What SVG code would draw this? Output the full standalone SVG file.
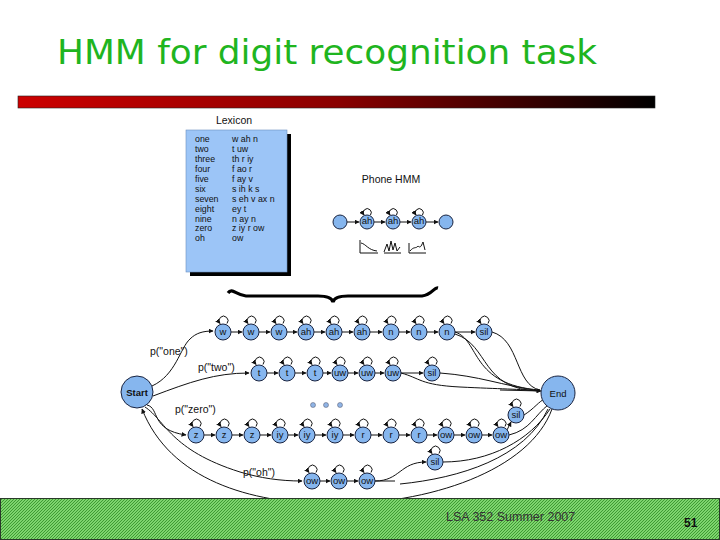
<svg xmlns="http://www.w3.org/2000/svg" xmlns:xlink="http://www.w3.org/1999/xlink" width="720" height="540" viewBox="0 0 720 540">
<style>
.n{fill:#86b6ee;stroke:#1a2440;stroke-width:1}
.nt{font-family:"Liberation Sans",Arial,sans-serif;font-size:9.5px;text-anchor:middle;fill:#111}
.c{fill:none;stroke:#111;stroke-width:1}
.ca{fill:none;stroke:#111;stroke-width:1;marker-end:url(#ah)}
.lbl{font-family:"Liberation Sans",Arial,sans-serif;font-size:10.5px;fill:#111}
.lex{font-family:"Liberation Sans",Arial,sans-serif;font-size:8.8px;fill:#111}
</style>
<defs>
<linearGradient id="bar" x1="0" x2="1" y1="0" y2="0">
<stop offset="0" stop-color="#cc0000"/>
<stop offset="0.5" stop-color="#8a0000"/>
<stop offset="1" stop-color="#000000"/>
</linearGradient>
<pattern id="hatch" width="3" height="3" patternUnits="userSpaceOnUse">
<rect width="3" height="3" fill="#7ed46e"/>
<path d="M0,3 L3,0" stroke="#3f9a33" stroke-width="1"/>
</pattern>
<marker id="ah" viewBox="0 0 10 10" refX="9" refY="5" markerWidth="5" markerHeight="5" orient="auto" markerUnits="userSpaceOnUse">
<path d="M0,0 L10,5 L0,10 z" fill="#111"/>
</marker>
<path id="loop" d="M4,-8.5 A4.5,4.5 0 1 0 -3,-8.5" class="ca"/>
<path id="loops" d="M3.5,-7 A4,4 0 1 0 -3,-7" class="ca"/>
</defs>
<rect width="720" height="540" fill="#ffffff"/>

<g id="title">
<text x="57" y="64" font-family="DejaVu Sans,Verdana,sans-serif" font-size="33" fill="#1fb51f" textLength="540" lengthAdjust="spacingAndGlyphs">HMM for digit recognition task</text>
<rect x="18" y="96" width="637" height="12" fill="url(#bar)" stroke="#222" stroke-width="0.6"/>
</g>

<g id="lexicon">
<text x="234" y="124" class="lbl" text-anchor="middle" font-size="10">Lexicon</text>
<rect x="190" y="134" width="101" height="142" fill="#000"/>
<rect x="186" y="130" width="101" height="142" fill="#9cc5f7" stroke="#6b8fc0" stroke-width="0.6"/>
<g class="lex">
<text x="195" y="142">one</text><text x="232" y="142">w ah n</text>
<text x="195" y="152">two</text><text x="232" y="152">t uw</text>
<text x="195" y="162">three</text><text x="232" y="162">th r iy</text>
<text x="195" y="172">four</text><text x="232" y="172">f ao r</text>
<text x="195" y="182">five</text><text x="232" y="182">f ay v</text>
<text x="195" y="192">six</text><text x="232" y="192">s ih k s</text>
<text x="195" y="202">seven</text><text x="232" y="202">s eh v ax n</text>
<text x="195" y="211.5">eight</text><text x="232" y="211.5">ey t</text>
<text x="195" y="221.5">nine</text><text x="232" y="221.5">n ay n</text>
<text x="195" y="231.3">zero</text><text x="232" y="231.3">z iy r ow</text>
<text x="195" y="241">oh</text><text x="232" y="241">ow</text>
</g>
</g>

<g id="phone-hmm">
<text x="391" y="183" class="lbl" text-anchor="middle" font-size="10">Phone HMM</text>
<g class="ca">
<path d="M347,222 L359,222"/><path d="M374,222 L385,222"/><path d="M400,222 L411,222"/><path d="M426,222 L438,222"/>
</g>
<use xlink:href="#loops" x="367" y="222"/><use xlink:href="#loops" x="393" y="222"/><use xlink:href="#loops" x="419" y="222"/>
<circle class="n" cx="340" cy="222" r="7"/>
<circle class="n" cx="367" cy="222" r="7"/>
<circle class="n" cx="393" cy="222" r="7"/>
<circle class="n" cx="419" cy="222" r="7"/>
<circle class="n" cx="446" cy="222" r="7"/>
<g class="nt" font-size="5.5"><text x="367" y="224">ah</text><text x="393" y="224">ah</text><text x="419" y="224">ah</text></g>
<g class="c" stroke-width="0.9">
<path d="M360,240 L360,253 L378,253"/><path d="M361,243 C366,244 368,250 377,251"/>
<path d="M384,253 L401,253 M384,252 L387,244 L389,251 L391,241 L393,250 L395,243 L397,251 L400,247"/>
<path d="M409,243 L409,253 L426,253"/><path d="M410,251 C414,246 416,249 418,246 C420,248 421,247 423,242 L425,250"/>
</g>
</g>

<g id="brace">
<path d="M228,293 C232,287 236,295 246,296 L318,296 C328,296 332,298 333,302 C334,298 338,296 348,296 L422,296 C432,295 434,287 438,288" fill="none" stroke="#000" stroke-width="3.2"/>
</g>

<g id="connectors">
<path class="ca" d="M152,386 C176,375 180,348 190,339 C196,333 203,331 213,331"/>
<path class="ca" d="M153,396 C190,382 215,373 249,373"/>
<path class="ca" d="M147,405 C160,408 150,430 186,435"/>
<path class="c" d="M145,407 C165,420 170,450 240,472"/>
<path class="ca" d="M240,472 C260,478 280,481 302,481"/>
<path class="ca" d="M552,409 C530,470 430,505 330,504 C250,503 170,480 142,409"/>
<g class="ca">
<path d="M231,332 L242,332"/><path d="M259,332 L270,332"/><path d="M287,332 L297,332"/><path d="M314,332 L325,332"/><path d="M342,332 L353,332"/><path d="M370,332 L382,332"/><path d="M399,332 L410,332"/><path d="M427,332 L438,332"/><path d="M455,332 L475,332"/>
</g>
<path class="c" d="M455,332 C480,340 470,385 540,390"/>
<path class="c" d="M455,334 C490,345 480,390 540,391"/>
<path class="c" d="M492,332 C520,340 515,385 540,390"/>
<g class="ca">
<path d="M267,373 L278,373"/><path d="M295,373 L306,373"/><path d="M323,373 L331,373"/><path d="M348,373 L358,373"/><path d="M375,373 L384,373"/><path d="M401,373 L423,373"/>
</g>
<path class="c" d="M440,373 C480,376 500,385 540,391"/>
<path class="c" d="M401,373 C420,378 420,385 460,387 C500,389 520,389 540,391"/>
<path class="ca" d="M500,390 L541,391"/>
<circle cx="313" cy="405" r="2.5" fill="#8fb4e6" stroke="#556" stroke-width="0.5"/>
<circle cx="326" cy="405" r="2.5" fill="#8fb4e6" stroke="#556" stroke-width="0.5"/>
<circle cx="340" cy="405" r="2.5" fill="#8fb4e6" stroke="#556" stroke-width="0.5"/>
<g class="ca">
<path d="M204,435 L215,435"/><path d="M232,435 L243,435"/><path d="M260,435 L271,435"/><path d="M288,435 L298,435"/><path d="M315,435 L326,435"/><path d="M343,435 L354,435"/><path d="M371,435 L382,435"/><path d="M399,435 L410,435"/><path d="M427,435 L437,435"/><path d="M454,435 L465,435"/><path d="M482,435 L492,435"/>
<path d="M507,430 L511,422"/>
</g>
<path class="c" d="M509,435 C530,430 535,415 548,405"/>
<path class="c" d="M524,415 C535,408 538,402 546,398"/>
<g class="ca">
<path d="M320,481 L330,481"/><path d="M347,481 L358,481"/>
<path d="M375,481 C400,481 400,462 426,462"/>
</g>
<path class="c" d="M443,462 C490,462 530,440 550,409"/>
<path class="c" d="M400,484 C460,478 525,458 548,409"/>
<path class="c" d="M375,481 L395,481"/>
</g>

<g id="start"><circle class="n" cx="137" cy="392" r="16"/><text class="nt" x="137" y="395.5" font-size="10" font-weight="bold">Start</text></g>
<g id="end"><circle class="n" cx="558" cy="393" r="17"/><text class="nt" x="558" y="397" font-size="10.5">End</text></g>

<g id="labels" class="lbl">
<text x="150" y="355">p("one")</text>
<text x="198" y="371">p("two")</text>
<text x="175" y="413">p("zero")</text>
<text x="243" y="476">p("oh")</text>
</g>

<g id="row1">
<use xlink:href="#loop" x="223" y="332"/><use xlink:href="#loop" x="251" y="332"/><use xlink:href="#loop" x="279" y="332"/><use xlink:href="#loop" x="306" y="332"/><use xlink:href="#loop" x="334" y="332"/><use xlink:href="#loop" x="362" y="332"/><use xlink:href="#loop" x="391" y="332"/><use xlink:href="#loop" x="419" y="332"/><use xlink:href="#loop" x="447" y="332"/><use xlink:href="#loop" x="484" y="332"/>
<g id="n1-w1"><circle class="n" cx="223" cy="332" r="8"/><text class="nt" x="223" y="335">w</text></g>
<g id="n1-w2"><circle class="n" cx="251" cy="332" r="8"/><text class="nt" x="251" y="335">w</text></g>
<g id="n1-w3"><circle class="n" cx="279" cy="332" r="8"/><text class="nt" x="279" y="335">w</text></g>
<g id="n1-ah1"><circle class="n" cx="306" cy="332" r="8"/><text class="nt" x="306" y="335">ah</text></g>
<g id="n1-ah2"><circle class="n" cx="334" cy="332" r="8"/><text class="nt" x="334" y="335">ah</text></g>
<g id="n1-ah3"><circle class="n" cx="362" cy="332" r="8"/><text class="nt" x="362" y="335">ah</text></g>
<g id="n1-n1"><circle class="n" cx="391" cy="332" r="8"/><text class="nt" x="391" y="335">n</text></g>
<g id="n1-n2"><circle class="n" cx="419" cy="332" r="8"/><text class="nt" x="419" y="335">n</text></g>
<g id="n1-n3"><circle class="n" cx="447" cy="332" r="8"/><text class="nt" x="447" y="335">n</text></g>
<g id="n1-sil"><circle class="n" cx="484" cy="332" r="8"/><text class="nt" x="484" y="335">sil</text></g>
</g>

<g id="row2">
<use xlink:href="#loop" x="259" y="373"/><use xlink:href="#loop" x="287" y="373"/><use xlink:href="#loop" x="315" y="373"/><use xlink:href="#loop" x="340" y="373"/><use xlink:href="#loop" x="367" y="373"/><use xlink:href="#loop" x="393" y="373"/><use xlink:href="#loop" x="432" y="373"/>
<g id="n2-t1"><circle class="n" cx="259" cy="373" r="8"/><text class="nt" x="259" y="376">t</text></g>
<g id="n2-t2"><circle class="n" cx="287" cy="373" r="8"/><text class="nt" x="287" y="376">t</text></g>
<g id="n2-t3"><circle class="n" cx="315" cy="373" r="8"/><text class="nt" x="315" y="376">t</text></g>
<g id="n2-uw1"><circle class="n" cx="340" cy="373" r="8"/><text class="nt" x="340" y="376">uw</text></g>
<g id="n2-uw2"><circle class="n" cx="367" cy="373" r="8"/><text class="nt" x="367" y="376">uw</text></g>
<g id="n2-uw3"><circle class="n" cx="393" cy="373" r="8"/><text class="nt" x="393" y="376">uw</text></g>
<g id="n2-sil"><circle class="n" cx="432" cy="373" r="8"/><text class="nt" x="432" y="376">sil</text></g>
</g>

<g id="row3">
<use xlink:href="#loop" x="196" y="435"/><use xlink:href="#loop" x="224" y="435"/><use xlink:href="#loop" x="252" y="435"/><use xlink:href="#loop" x="280" y="435"/><use xlink:href="#loop" x="307" y="435"/><use xlink:href="#loop" x="335" y="435"/><use xlink:href="#loop" x="363" y="435"/><use xlink:href="#loop" x="391" y="435"/><use xlink:href="#loop" x="419" y="435"/><use xlink:href="#loop" x="446" y="435"/><use xlink:href="#loop" x="474" y="435"/><use xlink:href="#loop" x="501" y="435"/><use xlink:href="#loop" x="516" y="415"/>
<g id="n3-z1"><circle class="n" cx="196" cy="435" r="8"/><text class="nt" x="196" y="438">z</text></g>
<g id="n3-z2"><circle class="n" cx="224" cy="435" r="8"/><text class="nt" x="224" y="438">z</text></g>
<g id="n3-z3"><circle class="n" cx="252" cy="435" r="8"/><text class="nt" x="252" y="438">z</text></g>
<g id="n3-iy1"><circle class="n" cx="280" cy="435" r="8"/><text class="nt" x="280" y="438">iy</text></g>
<g id="n3-iy2"><circle class="n" cx="307" cy="435" r="8"/><text class="nt" x="307" y="438">iy</text></g>
<g id="n3-iy3"><circle class="n" cx="335" cy="435" r="8"/><text class="nt" x="335" y="438">iy</text></g>
<g id="n3-r1"><circle class="n" cx="363" cy="435" r="8"/><text class="nt" x="363" y="438">r</text></g>
<g id="n3-r2"><circle class="n" cx="391" cy="435" r="8"/><text class="nt" x="391" y="438">r</text></g>
<g id="n3-r3"><circle class="n" cx="419" cy="435" r="8"/><text class="nt" x="419" y="438">r</text></g>
<g id="n3-ow1"><circle class="n" cx="446" cy="435" r="8"/><text class="nt" x="446" y="438">ow</text></g>
<g id="n3-ow2"><circle class="n" cx="474" cy="435" r="8"/><text class="nt" x="474" y="438">ow</text></g>
<g id="n3-ow3"><circle class="n" cx="501" cy="435" r="8"/><text class="nt" x="501" y="438">ow</text></g>
<g id="n3-sil"><circle class="n" cx="516" cy="415" r="8"/><text class="nt" x="516" y="418">sil</text></g>
</g>

<g id="row4">
<use xlink:href="#loop" x="435" y="462"/>
<g id="n4-sil"><circle class="n" cx="435" cy="462" r="8"/><text class="nt" x="435" y="465">sil</text></g>
</g>

<g id="row5">
<use xlink:href="#loop" x="312" y="481"/><use xlink:href="#loop" x="339" y="481"/><use xlink:href="#loop" x="367" y="481"/>
<g id="n5-ow1"><circle class="n" cx="312" cy="481" r="8"/><text class="nt" x="312" y="484">ow</text></g>
<g id="n5-ow2"><circle class="n" cx="339" cy="481" r="8"/><text class="nt" x="339" y="484">ow</text></g>
<g id="n5-ow3"><circle class="n" cx="367" cy="481" r="8"/><text class="nt" x="367" y="484">ow</text></g>
</g>

<g id="footer">
<rect x="0.5" y="498.5" width="719" height="41" fill="url(#hatch)" stroke="#2a3a2a" stroke-width="1"/>
<text x="446" y="521" font-family="Liberation Sans,Arial,sans-serif" font-size="12.5" fill="#333">LSA 352 Summer 2007</text>
<text x="684" y="527" font-family="Liberation Sans,Arial,sans-serif" font-size="12" font-weight="bold" fill="#111">51</text>
</g>
</svg>
